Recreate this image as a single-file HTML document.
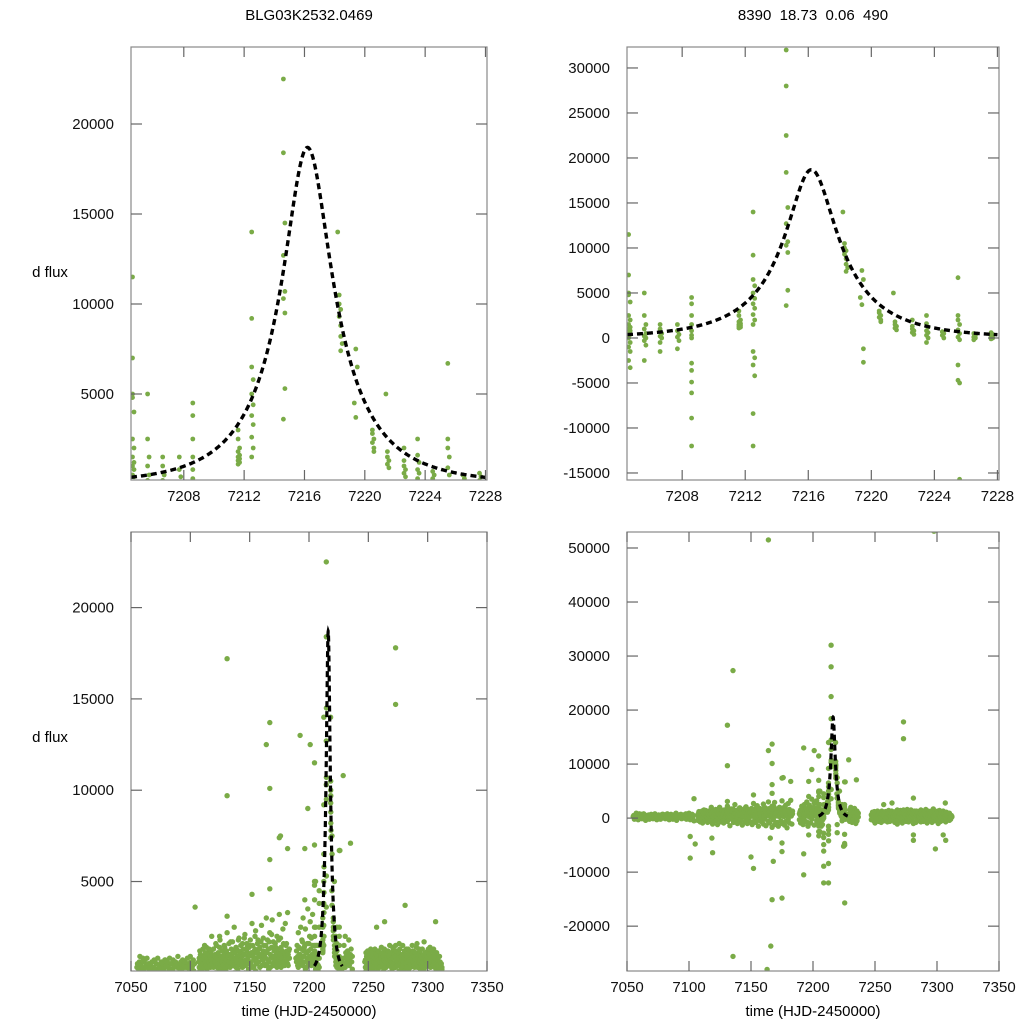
<!DOCTYPE html>
<html><head><meta charset="utf-8"><style>
html,body{margin:0;padding:0;background:#fff;overflow:hidden;width:1024px;height:1024px;}
svg{display:block;font-family:"Liberation Sans",sans-serif;}
</style></head><body>
<svg id="chart" width="1024" height="1024" viewBox="0 0 1024 1024" xmlns="http://www.w3.org/2000/svg">
<text x="309" y="20" font-size="15" text-anchor="middle">BLG03K2532.0469</text>
<text x="813" y="20" font-size="15" text-anchor="middle" xml:space="preserve">8390  18.73  0.06  490</text>
<text x="50" y="277" font-size="15" text-anchor="middle">d flux</text>
<text x="50" y="742" font-size="15" text-anchor="middle">d flux</text>
<text x="309" y="1016" font-size="15" text-anchor="middle">time (HJD-2450000)</text>
<text x="813" y="1016" font-size="15" text-anchor="middle">time (HJD-2450000)</text>
</svg>
<script>
// peak-window observations [time, flux]
const zoomObs = [
[7204.6,11500],[7204.6,7000],[7204.6,5000],[7204.6,4800],[7204.7,4000],[7204.6,2500],[7204.7,2000],[7204.6,1500],[7204.7,1200],[7204.6,1000],[7204.7,800],[7204.6,500],[7204.7,400],[7204.6,0],[7204.7,-500],[7204.6,-1000],[7204.7,-1500],[7204.6,-2500],[7204.7,-3300],
[7205.6,5000],[7205.6,2500],[7205.7,1500],[7205.6,1000],[7205.7,500],[7205.6,200],[7205.7,0],[7205.6,-300],[7205.7,-800],[7205.6,-2500],
[7206.6,1500],[7206.6,1000],[7206.7,500],[7206.6,200],[7206.7,0],[7206.6,-500],[7206.6,-1500],
[7207.7,1500],[7207.7,800],[7207.8,400],[7207.7,100],[7207.8,-300],[7207.7,-1200],
[7208.6,4500],[7208.6,3800],[7208.6,2500],[7208.6,1500],[7208.6,800],[7208.6,300],[7208.6,0],[7208.6,-2800],[7208.6,-3600],[7208.6,-4900],[7208.6,-6100],[7208.6,-8900],[7208.6,-12000],
[7211.6,3000],[7211.6,2500],[7211.7,2000],[7211.6,1800],[7211.7,1600],[7211.6,1500],[7211.7,1400],[7211.6,1300],[7211.7,1200],[7211.6,1100],
[7212.5,14000],[7212.5,9200],[7212.5,6500],[7212.6,5800],[7212.5,5000],[7212.6,4400],[7212.5,3800],[7212.6,3300],[7212.5,2600],[7212.6,2000],[7212.5,1500],[7212.5,-1500],[7212.6,-2200],[7212.5,-3000],[7212.6,-4200],[7212.5,-8400],[7212.5,-12000],
[7214.6,32000],[7214.6,28000],[7214.6,22500],[7214.6,18400],[7214.7,14500],[7214.6,12700],[7214.7,10700],[7214.6,10300],[7214.7,9500],[7214.7,5300],[7214.6,3600],
[7218.2,14000],[7218.3,10500],[7218.3,10000],[7218.4,9700],[7218.3,9300],[7218.4,8800],[7218.4,8200],[7218.5,7800],[7218.4,7400],
[7219.4,7500],[7219.5,6500],[7219.3,4500],[7219.4,3700],[7219.5,-1200],[7219.5,-2700],
[7220.5,3000],[7220.5,2800],[7220.6,2500],[7220.5,2300],[7220.6,2000],[7220.6,1800],[7221.4,5000],
[7221.5,1800],[7221.5,1500],[7221.6,1300],[7221.5,1100],[7221.6,900],
[7222.6,2000],[7222.6,1300],[7222.6,1000],[7222.7,800],[7222.6,600],[7222.7,400],
[7223.5,2500],[7223.5,1600],[7223.6,1200],[7223.5,800],[7223.6,600],[7223.5,300],[7223.6,0],[7223.5,-500],
[7224.5,700],[7224.6,500],[7224.5,300],[7224.6,0],
[7225.5,6700],[7225.5,2500],[7225.5,2000],[7225.6,1500],[7225.5,900],[7225.6,500],[7225.5,100],[7225.6,-200],[7225.5,-3000],[7225.5,-4700],[7225.6,-5000],[7225.6,-15700],
[7226.5,500],[7226.6,300],[7226.5,100],[7226.6,0],[7226.5,-200],
[7227.6,600],[7227.7,400],[7227.6,200],[7227.7,0],[7227.6,-100]
];
// rest-of-season baseline observations [time, flux]
const seasonObs = [
[7055,300],[7056,-200],[7057,600],[7058,100],[7059,-300],[7060,800],[7061,200],[7062,-100],[7063,400],[7064,0],[7065,-400],[7066,500],[7067,100],[7068,-200],[7069,300],[7070,600],[7071,-100],[7072,200],[7073,0],[7074,-300],[7075,400],[7076,100],[7077,-200],[7078,300],[7079,700],[7080,0],[7081,-100],[7082,200],[7083,500],[7084,-300],[7085,100],[7086,400],[7087,-200],[7088,0],[7089,300],[7090,-400],[7091,200],[7092,600],[7093,100],[7094,-100],[7095,300],[7096,0],[7097,500],[7098,-200],[7099,200],[7100,900],[7101,-300],[7102,400],[7103,100],[7104,-500],
[7107,600],[7107,-400],[7108,1200],[7108,100],[7109,-700],[7109,300],[7110,900],[7110,-200],[7111,400],[7111,-900],[7112,1500],[7112,0],[7113,-300],[7113,700],[7114,200],[7114,1100],[7115,-800],[7115,500],[7116,1300],[7116,-100],[7117,300],[7117,-600],[7118,2000],[7118,400],[7119,-1100],[7119,800],[7120,600],[7120,-300],[7121,1000],[7121,0],[7122,-500],[7122,1500],[7123,300],[7123,-1200],[7124,900],[7124,200],[7125,-200],[7125,1800],[7126,700],[7126,-700],[7127,100],[7127,1200],[7128,-900],[7128,500],[7129,1400],[7129,-300],[7130,200],[7130,800],[7131,-600],[7131,2200],[7132,1000],[7132,-100],[7133,400],[7133,-1400],[7134,1700],[7134,600],[7135,-300],[7135,900],[7136,1200],[7136,-800],[7137,0],[7137,2500],[7138,700],[7138,-500],[7139,-1000],[7139,1300],[7140,400],[7140,200],[7141,1900],[7141,-600],[7142,-200],[7142,800],[7143,1100],[7143,-1300],[7144,300],[7144,1600],[7145,-700],[7145,500],[7146,2100],[7146,0],[7147,600],[7147,-1000],[7148,-400],[7148,1400],[7149,900],[7149,200],[7150,1500],[7150,-700],[7151,-1200],[7151,600],[7152,300],[7152,2700],[7153,1000],[7153,-400],[7154,-800],[7154,1200],[7155,2300],[7155,100],[7156,500],[7156,-1500],[7157,-300],[7157,1800],[7158,1300],[7158,-600],[7159,0],[7159,900],[7160,2600],[7160,-1100],[7161,700],[7161,-200],[7162,-1400],[7162,1500],[7163,1100],[7163,400],[7164,-600],[7164,3000],[7165,1800],[7165,-900],[7166,200],[7166,1300],[7167,-1700],[7167,2200],[7168,900],[7168,-300],[7169,2900],[7169,-1200],[7170,400],[7170,1700],[7171,-800],[7171,600],[7172,1400],[7172,-1500],[7173,2000],[7173,300],[7174,-500],[7174,1100],[7175,3200],[7175,-1000],[7176,700],[7176,1900],[7177,-1300],[7177,400],[7178,2400],[7178,-600],[7179,1000],[7179,-1800],[7180,-200],[7180,2700],[7181,1600],[7181,-900],[7182,500],[7182,3300],[7183,-1100],[7183,1200],
[7189,800],[7189,-300],[7190,1500],[7190,-900],[7191,300],[7191,2200],[7192,-1200],[7192,1000],[7193,2500],[7193,-400],[7194,600],[7194,1800],[7195,-700],[7195,3000],[7196,1400],[7196,-1500],[7197,200],[7197,2400],[7198,-900],[7198,1100],[7199,3500],[7199,-200],[7200,700],[7200,1600],[7201,-1300],[7201,2800],[7202,1900],[7202,400],[7203,-500],[7203,3200],[7203.8,900],[7203.8,-1000],
[7228.5,400],[7228.5,-200],[7229.5,1500],[7229.5,-600],[7230.5,300],[7230.5,2000],[7231.5,-800],[7231.5,900],[7232.5,1200],[7232.5,-300],[7233.5,500],[7233.5,1800],[7234.5,-1000],[7234.5,700],[7235.5,1300],[7235.5,-500],[7236.5,200],[7236.5,900],
[7247,600],[7247,-300],[7248,1100],[7248,100],[7249,-500],[7249,800],[7250,300],[7250,-900],[7251,900],[7251,200],[7252,-200],[7252,1300],[7253,700],[7253,-600],[7254,100],[7254,1000],[7255,-800],[7255,400],[7256,1200],[7256,-100],[7257,300],[7257,-500],[7258,800],[7258,200],[7259,-300],[7259,1100],[7260,500],[7260,-700],[7261,1400],[7261,0],[7262,-600],[7262,700],[7263,200],[7263,-200],[7264,900],[7264,1200],[7265,-400],[7265,300],[7266,1000],[7266,-800],[7267,0],[7267,600],[7268,-1100],[7268,1500],[7269,700],[7269,-300],[7270,200],[7270,900],[7271,-500],[7271,1300],[7272,1200],[7272,-900],[7273,300],[7273,500],[7274,-200],[7274,1000],[7275,800],[7275,-600],[7276,1600],[7276,100],[7277,-700],[7277,700],[7278,400],[7278,-300],[7279,1000],[7279,1500],[7280,-300],[7280,200],[7281,600],[7281,-1000],[7282,1300],[7282,400],[7283,-800],[7283,800],[7284,200],[7284,-200],[7285,900],[7285,1200],[7286,-400],[7286,500],[7287,1500],[7287,-700],[7288,0],[7288,900],[7289,-600],[7289,300],[7290,1100],[7290,-300],[7291,400],[7291,1600],[7292,-900],[7292,700],[7293,1300],[7293,-500],[7294,200],[7294,1000],[7295,-300],[7295,400],[7296,800],[7296,-800],[7297,1700],[7297,200],[7298,-500],[7298,1100],[7299,600],[7299,-300],[7300,1200],[7300,700],[7301,-1000],[7301,0],[7302,400],[7302,1400],[7303,900],[7303,-600],[7304,-200],[7304,500],[7305,1300],[7305,-400],[7306,300],[7306,1000],[7307,-700],[7307,200],[7308,800],[7308,-300],[7309,100],[7309,600],[7310,-400],[7310,900],[7311,500],[7311,-200],[7312,200],[7312,300]
];
// additional baseline observations (second visits) [time, flux]
const seasonObs2 = [
[7055.5,500],[7056.5,200],[7057.5,900],[7058.5,400],[7059.5,300],[7060.5,600],[7061.5,700],[7062.5,300],[7063.5,800],[7064.5,500],[7065.5,200],[7066.5,400],[7067.5,600],[7068.5,300],[7069.5,700],[7070.5,200],[7071.5,500],[7072.5,800],[7073.5,400],[7074.5,300],[7075.5,600],[7076.5,500],[7077.5,200],[7078.5,700],[7079.5,400],[7080.5,600],[7081.5,300],[7082.5,800],[7083.5,200],[7084.5,500],[7085.5,700],[7086.5,300],[7087.5,600],[7088.5,400],[7089.5,900],[7090.5,300],[7091.5,500],[7092.5,200],[7093.5,700],[7094.5,400],[7095.5,600],[7096.5,300],[7097.5,800],[7098.5,500],[7099.5,400],[7100.5,600],[7101.5,300],[7102.5,700],[7103.5,500],
[7107.5,800],[7107.5,300],[7108.5,500],[7108.5,1000],[7109.5,700],[7109.5,200],[7110.5,1300],[7110.5,500],[7111.5,900],[7111.5,300],[7112.5,600],[7112.5,1100],[7113.5,400],[7113.5,1400],[7114.5,800],[7114.5,300],[7115.5,1000],[7115.5,600],[7116.5,400],[7116.5,900],[7117.5,1200],[7117.5,700],[7118.5,500],[7118.5,1000],[7119.5,300],[7119.5,1300],[7120.5,900],[7120.5,600],[7121.5,400],[7121.5,1600],[7122.5,800],[7122.5,300],[7123.5,1100],[7123.5,700],[7124.5,500],[7124.5,1400],[7125.5,900],[7125.5,300],[7126.5,1200],[7126.5,600],[7127.5,800],[7127.5,400],[7128.5,1500],[7128.5,1000],[7129.5,600],[7129.5,300],[7130.5,1200],[7130.5,700],[7131.5,900],[7131.5,400],[7132.5,1600],[7132.5,600],[7133.5,1000],[7133.5,300],[7134.5,800],[7134.5,1300],[7135.5,500],[7135.5,1700],[7136.5,700],[7136.5,400],[7137.5,1100],[7137.5,800],[7138.5,1400],[7138.5,300],[7139.5,900],[7139.5,600],[7140.5,1200],[7140.5,1800],[7141.5,500],[7141.5,1000],[7142.5,1500],[7142.5,700],[7143.5,400],[7143.5,900],[7144.5,1300],[7144.5,600],[7145.5,1000],[7145.5,1900],[7146.5,700],[7146.5,400],[7147.5,1200],[7147.5,1600],[7148.5,800],[7148.5,500],[7149.5,1400],[7149.5,1000],[7150.5,600],[7150.5,1800],[7151.5,1100],[7151.5,400],[7152.5,900],[7152.5,1500],[7153.5,700],[7153.5,300],[7154.5,1300],[7154.5,2000],[7155.5,800],[7155.5,500],[7156.5,1100],[7156.5,1600],[7157.5,600],[7157.5,900],[7158.5,1400],[7158.5,300],[7159.5,1000],[7159.5,1700],[7160.5,700],[7160.5,400],[7161.5,1200],[7161.5,1900],[7162.5,900],[7162.5,500],[7163.5,1500],[7163.5,800],[7164.5,1100],[7164.5,400],[7165.5,700],[7165.5,1300],[7166.5,1700],[7166.5,600],[7167.5,1000],[7167.5,300],[7168.5,1400],[7168.5,2100],[7169.5,800],[7169.5,500],[7170.5,1200],[7170.5,900],[7171.5,1600],[7171.5,400],[7172.5,700],[7172.5,1100],[7173.5,1300],[7173.5,600],[7174.5,900],[7174.5,1800],[7175.5,500],[7175.5,1000],[7176.5,1400],[7176.5,300],[7177.5,800],[7177.5,1200],[7178.5,1600],[7178.5,600],[7179.5,1100],[7179.5,400],[7180.5,900],[7180.5,1500],[7181.5,700],[7181.5,1200],[7182.5,1000],[7182.5,400],[7183.5,800],[7183.5,1300],
[7189.5,600],[7189.5,1200],[7190.5,900],[7190.5,400],[7191.5,1400],[7191.5,700],[7192.5,1000],[7192.5,500],[7193.5,1300],[7193.5,800],[7194.5,1700],[7194.5,400],[7195.5,900],[7195.5,1200],[7196.5,600],[7196.5,1500],[7197.5,1100],[7197.5,300],[7198.5,800],[7198.5,1600],[7199.5,1200],[7199.5,500],[7200.5,900],[7200.5,2000],[7201.5,700],[7201.5,1300],[7202.5,1000],[7202.5,500],[7203.3,1500],[7203.3,700],
[7229,800],[7230,500],[7231,1100],[7232,700],[7233,900],[7234,400],[7235,1000],[7236,600],
[7247.5,700],[7247.5,300],[7248.5,900],[7248.5,500],[7249.5,1200],[7249.5,400],[7250.5,800],[7250.5,600],[7251.5,1000],[7251.5,300],[7252.5,700],[7252.5,500],[7253.5,1100],[7253.5,900],[7254.5,600],[7254.5,300],[7255.5,1300],[7255.5,800],[7256.5,500],[7256.5,1000],[7257.5,900],[7257.5,400],[7258.5,1200],[7258.5,700],[7259.5,600],[7259.5,300],[7260.5,1000],[7260.5,800],[7261.5,500],[7261.5,1100],[7262.5,900],[7262.5,400],[7263.5,1300],[7263.5,700],[7264.5,600],[7264.5,300],[7265.5,1000],[7265.5,800],[7266.5,500],[7266.5,1200],[7267.5,900],[7267.5,400],[7268.5,700],[7268.5,1100],[7269.5,600],[7269.5,300],[7270.5,1400],[7270.5,800],[7271.5,500],[7271.5,1000],[7272.5,900],[7272.5,300],[7273.5,1200],[7273.5,700],[7274.5,600],[7274.5,400],[7275.5,1100],[7275.5,800],[7276.5,500],[7276.5,1300],[7277.5,900],[7277.5,300],[7278.5,1000],[7278.5,700],[7279.5,600],[7279.5,400],[7280.5,1200],[7280.5,800],[7281.5,500],[7281.5,1000],[7282.5,900],[7282.5,300],[7283.5,1300],[7283.5,600],[7284.5,700],[7284.5,1100],[7285.5,500],[7285.5,300],[7286.5,1000],[7286.5,800],[7287.5,600],[7287.5,1200],[7288.5,900],[7288.5,400],[7289.5,1100],[7289.5,700],[7290.5,500],[7290.5,1400],[7291.5,800],[7291.5,300],[7292.5,1000],[7292.5,600],[7293.5,700],[7293.5,1200],[7294.5,900],[7294.5,400],[7295.5,1300],[7295.5,600],[7296.5,500],[7296.5,1000],[7297.5,800],[7297.5,300],[7298.5,1100],[7298.5,700],[7299.5,900],[7299.5,400],[7300.5,600],[7300.5,1300],[7301.5,1000],[7301.5,500],[7302.5,800],[7302.5,300],[7303.5,1200],[7303.5,700],[7304.5,900],[7304.5,400],[7305.5,600],[7305.5,1000],[7306.5,800],[7306.5,300],[7307.5,1100],[7307.5,500],[7308.5,700],[7308.5,400],[7309.5,900],[7309.5,300],[7310.5,600],[7310.5,200],[7311.5,500],[7311.5,300]
];
// season outliers [time, flux]
const outlierObs = [
[7131,17200],[7131,9700],[7104,3600],[7101,-3400],[7105,-4800],[7101,-7400],[7118.5,-3700],[7119,-6400],[7124.7,2000],[7131,3100],[7152,4300],[7150,-7200],[7152,-9300],
[7164,12500],[7167,13700],[7167,10100],[7167,6200],[7167,4600],[7165.6,-3700],[7168,-8000],[7167,-15100],[7175,-14800],[7175,7400],[7182,6800],[7175,-6200],[7175,-4600],
[7192.5,13000],[7196.5,6800],[7196.5,4000],[7196.5,-3100],[7192.5,-6600],[7192.5,-10500],[7201,12500],[7199,9000],[7176,7500],
[7228.8,10800],[7235,7100],[7226,6700],[7224.7,-5200],[7257,2500],[7263.7,2800],[7273,1500],[7281,3700],[7281,-3100],[7281,-4100],[7298.7,-5700],[7306.7,2800],[7305,-3100],[7307,-4100],
[7164,51500],[7297.6,53100],[7273,17800],[7273,14700],[7166,-23700],[7163,-28000],[7135.5,-25600],[7135.5,27300]
];
// model parameters
const modelT0 = [7216.2];
const modelPeak = [18700];
const modelU0 = [0.3];
const modelTE = [5.5];
const modelRange = [7204.5, 7228];
// axis ticks
const xTicksTop = [7208,7212,7216,7220,7224,7228];
const xTicksBottom = [7050,7100,7150,7200,7250,7300,7350];
const yTicksTL = [5000,10000,15000,20000];
const yTicksTR = [-15000,-10000,-5000,0,5000,10000,15000,20000,25000,30000];
const yTicksBL = [5000,10000,15000,20000];
const yTicksBR = [-20000,-10000,0,10000,20000,30000,40000,50000];

const NS = 'http://www.w3.org/2000/svg';
const svg = document.getElementById('chart');
function mk(tag, attrs, parent){
  const e = document.createElementNS(NS, tag);
  for (const k in attrs) e.setAttribute(k, attrs[k]);
  (parent||svg).appendChild(e);
  return e;
}
function magn(u){ return (u*u+2)/(u*Math.sqrt(u*u+4)); }
function model(t){
  const a0 = magn(modelU0[0]) - 1;
  const dt = (t - modelT0[0]) / modelTE[0];
  const u = Math.sqrt(modelU0[0]*modelU0[0] + dt*dt);
  return modelPeak[0] * (magn(u) - 1) / a0;
}

const panels = [
  {id:'top-left', x0:131, x1:487, y0:47, y1:480, t0:7204.5, t1:7228.1, f0:222, f1:24278, xt:xTicksTop, yt:yTicksTL, pts:[zoomObs], lw:3.4, r:2.4},
  {id:'top-right', x0:627, x1:999, y0:47, y1:480, t0:7204.5, t1:7228.1, f0:-15780, f1:32330, xt:xTicksTop, yt:yTicksTR, pts:[zoomObs], lw:3.4, r:2.4},
  {id:'bottom-left', x0:131, x1:487, y0:532, y1:971, t0:7050, t1:7350, f0:100, f1:24140, xt:xTicksBottom, yt:yTicksBL, pts:[seasonObs, seasonObs2, outlierObs, zoomObs], lw:3.2, r:2.7},
  {id:'bottom-right', x0:627, x1:999, y0:532, y1:971, t0:7050, t1:7350, f0:-28300, f1:52960, xt:xTicksBottom, yt:yTicksBR, pts:[seasonObs, seasonObs2, outlierObs, zoomObs], lw:3.2, r:2.7}
];

panels.forEach((p, i) => {
  const sx = t => p.x0 + (t - p.t0) / (p.t1 - p.t0) * (p.x1 - p.x0);
  const sy = f => p.y1 - (f - p.f0) / (p.f1 - p.f0) * (p.y1 - p.y0);
  const g = mk('g', {});
  
  
  const cp = mk('clipPath', {id:'clip'+i}, g);
  mk('rect', {x:p.x0, y:p.y0, width:p.x1-p.x0, height:p.y1-p.y0}, cp);
  const pg = mk('g', {'clip-path':'url(#clip'+i+')', fill:'#7aab47'}, g);
  
  
  p.pts.forEach(arr => arr.forEach(d => {
    const c = mk('circle', {cx:sx(d[0]).toFixed(1), cy:sy(d[1]).toFixed(1), r:p.r}, pg);
    
    
  }));
  let dstr = '';
  for (let k = 0; k <= 400; k++) {
    const t = modelRange[0] + (modelRange[1] - modelRange[0]) * k / 400;
    dstr += (k ? 'L' : 'M') + sx(t).toFixed(2) + ',' + sy(model(t)).toFixed(2);
  }
  const mline = mk('path', {d:dstr, fill:'none', stroke:'#000', 'stroke-width':p.lw, 'stroke-dasharray':'6,4', 'clip-path':'url(#clip'+i+')'}, g);
  
  
  const fr = mk('rect', {x:p.x0, y:p.y0, width:p.x1-p.x0, height:p.y1-p.y0, fill:'none', stroke:'#888', 'stroke-width':1.2}, g);
  
  
  p.xt.forEach(v => {
    const x = sx(v);
    if (x < p.x0 - 1 || x > p.x1 + 1) return;
    mk('line', {x1:x, x2:x, y1:p.y1, y2:p.y1-10, stroke:'#666', 'stroke-width':1.2}, g);
    mk('line', {x1:x, x2:x, y1:p.y0, y2:p.y0+10, stroke:'#666', 'stroke-width':1.2}, g);
    const tx = mk('text', {x:x, y:p.y1+21, 'font-size':15, 'text-anchor':'middle', fill:'#111'}, g);
    tx.textContent = v;
    
    
  });
  p.yt.forEach(v => {
    const y = sy(v);
    mk('line', {x1:p.x0, x2:p.x0+11, y1:y, y2:y, stroke:'#666', 'stroke-width':1.2}, g);
    mk('line', {x1:p.x1, x2:p.x1-11, y1:y, y2:y, stroke:'#666', 'stroke-width':1.2}, g);
    const ty = mk('text', {x:p.x0-17, y:y+5, 'font-size':15, 'text-anchor':'end', fill:'#111'}, g);
    ty.textContent = v;
    
    
  });
});
</script>
</body></html>
